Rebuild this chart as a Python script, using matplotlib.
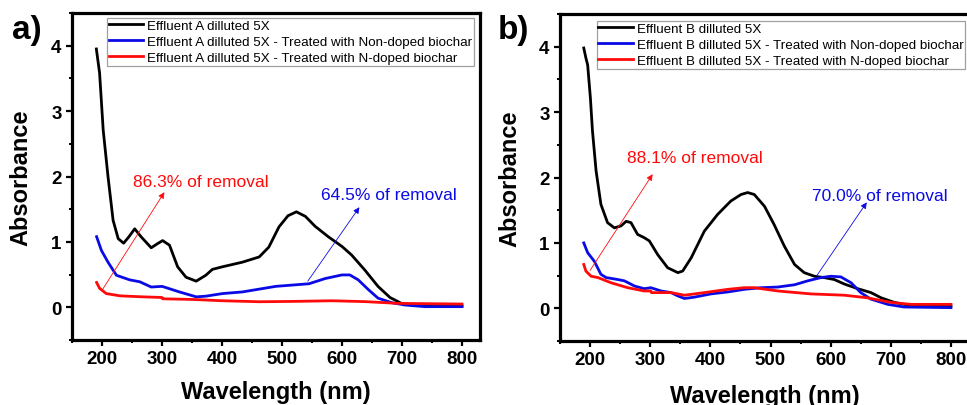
import matplotlib
matplotlib.use("Agg")
import matplotlib.pyplot as plt
from matplotlib.ticker import MultipleLocator

plt.rcParams['font.family'] = ['Liberation Sans', 'DejaVu Sans']

# ---------------- Data ----------------
# Panel a) Effluent A
a_black_x = [190.6, 196, 202, 210, 218.5, 227, 236, 245, 254.5, 265, 282, 292, 301, 312.5, 326, 340, 357, 373,
             384, 401, 434, 462, 478, 495, 510, 524, 539, 555, 577, 600, 616, 638, 660, 680, 699, 721, 749, 800]
a_black_y = [3.95, 3.58, 2.71, 2.00, 1.33, 1.05, 0.98, 1.08, 1.20, 1.08, 0.91, 0.97, 1.02, 0.95, 0.62, 0.46, 0.40, 0.49,
             0.58, 0.62, 0.69, 0.77, 0.92, 1.23, 1.40, 1.46, 1.39, 1.24, 1.08, 0.93, 0.80, 0.57, 0.32, 0.15, 0.06, 0.035, 0.02, 0.02]

a_blue_x = [191, 199, 210, 224, 246, 263, 282, 300, 307, 329, 357, 373, 401, 434, 489.5, 545, 572, 600, 613, 627, 644,
            660, 683, 705, 738, 800]
a_blue_y = [1.08, 0.87, 0.69, 0.49, 0.42, 0.39, 0.31, 0.32, 0.30, 0.235, 0.16, 0.17, 0.21, 0.235, 0.32, 0.36, 0.44,
            0.495, 0.495, 0.42, 0.27, 0.14, 0.07, 0.035, 0.01, 0.01]

a_red_x = [191, 196, 207, 230, 268, 300, 301, 351, 401, 462, 517, 583, 638, 693, 800]
a_red_y = [0.38, 0.29, 0.21, 0.175, 0.16, 0.15, 0.13, 0.12, 0.10, 0.085, 0.09, 0.10, 0.087, 0.06, 0.05]

# Panel b) Effluent B
b_black_x = [189.5, 193, 196, 200.5, 204, 210, 218, 229, 240.4, 251.5, 260, 268, 279, 290, 298.6, 312.5, 329, 346,
             354, 368, 390, 412, 434, 451, 462, 473, 490, 506, 523, 540, 556, 573, 589, 606, 623, 645, 667, 684,
             706, 728, 800]
b_black_y = [3.98, 3.83, 3.72, 3.22, 2.71, 2.10, 1.59, 1.31, 1.23, 1.26, 1.33, 1.31, 1.13, 1.08, 1.03, 0.82, 0.62, 0.545,
             0.57, 0.77, 1.18, 1.435, 1.64, 1.74, 1.77, 1.74, 1.56, 1.28, 0.95, 0.67, 0.545, 0.49, 0.47, 0.44,
             0.37, 0.30, 0.24, 0.16, 0.09, 0.05, 0.035]

b_blue_x = [189.5, 196, 207, 218, 226.6, 246, 257, 274, 290, 301, 318, 334.6, 345.7, 357, 373, 401, 429, 456.5, 484,
            512, 540, 562, 584, 600.5, 617, 634, 650, 667, 695, 722, 800]
b_blue_y = [1.00, 0.85, 0.72, 0.52, 0.47, 0.44, 0.42, 0.34, 0.30, 0.315, 0.265, 0.24, 0.19, 0.15, 0.17, 0.22, 0.25,
            0.29, 0.315, 0.325, 0.36, 0.42, 0.47, 0.49, 0.48, 0.39, 0.24, 0.14, 0.06, 0.02, 0.01]

b_red_x = [189.5, 193, 201.7, 213, 235, 262.6, 290, 301, 302, 334.6, 357, 390, 429, 456.5, 473, 512, 567, 623,
           661.5, 700, 734, 800]
b_red_y = [0.67, 0.57, 0.49, 0.47, 0.39, 0.315, 0.265, 0.265, 0.24, 0.24, 0.20, 0.24, 0.29, 0.315, 0.315, 0.265,
           0.22, 0.20, 0.16, 0.09, 0.06, 0.06]

labels_a = ["Effluent A dilluted 5X",
            "Effluent A dilluted 5X - Treated with Non-doped biochar",
            "Effluent A dilluted 5X - Treated with N-doped biochar"]
labels_b = ["Effluent B dilluted 5X",
            "Effluent B dilluted 5X - Treated with Non-doped biochar",
            "Effluent B dilluted 5X - Treated with N-doped biochar"]

x_ticks = [200, 300, 400, 500, 600, 700, 800]
y_ticks = [0, 1, 2, 3, 4]

BLACK = "#000000"
BLUE = "#0a0ae6"
RED = "#ff0a0a"

fig = plt.figure(figsize=(9.67, 4.06), dpi=100)
ax_a = fig.add_axes([72/967, 65/406, 408/967, 327/406])
ax_b = fig.add_axes([560/967, 64/406, 409/967, 327/406])


def style(ax, ylab_x, xlab_y):
    ax.set_xlim(150, 830)
    ax.set_ylim(-0.5, 4.5)
    ax.set_xticks(x_ticks)
    ax.set_yticks(y_ticks)
    ax.xaxis.set_minor_locator(MultipleLocator(50))
    ax.yaxis.set_minor_locator(MultipleLocator(0.5))
    ax.tick_params(which='major', direction='out', length=4.5, width=1.6, labelsize=13.5, pad=3,
                   top=False, right=False)
    ax.tick_params(which='minor', direction='out', length=2.5, width=1.4, top=False, right=False)
    for lbl in ax.get_xticklabels() + ax.get_yticklabels():
        lbl.set_fontweight('bold')
    for s in ax.spines.values():
        s.set_linewidth(2.3)
    ax.set_xlabel("Wavelength (nm)", fontsize=17, fontweight='bold')
    ax.set_ylabel("Absorbance", fontsize=17, fontweight='bold')
    ax.yaxis.set_label_coords(ylab_x, 0.5)
    ax.xaxis.set_label_coords(0.5, xlab_y)


def legend(ax, labels, anchor):
    ax.legend(labels=labels, loc='upper left', bbox_to_anchor=anchor, fontsize=9.6,
              frameon=True, fancybox=False, edgecolor='#a0a0a0', framealpha=1,
              borderpad=0.12, labelspacing=0.28, handlelength=2.6, handletextpad=0.3,
              borderaxespad=0.0).get_frame().set_linewidth(0.9)


def arrow(ax, start, end, color):
    ax.annotate("", xy=end, xytext=start,
                arrowprops=dict(arrowstyle='-|>', color=color, lw=0.6, mutation_scale=9,
                                shrinkA=0, shrinkB=0))


# Panel a
for xs, ys, c in [(a_black_x, a_black_y, BLACK), (a_blue_x, a_blue_y, BLUE), (a_red_x, a_red_y, RED)]:
    ax_a.plot(xs, ys, color=c, lw=2.0, solid_joinstyle='round')
style(ax_a, -0.098, -0.122)
legend(ax_a, labels_a, (0.086, 0.985))
arrow(ax_a, (200, 0.26), (304, 1.76), RED)
arrow(ax_a, (543, 0.40), (629, 1.53), BLUE)
ax_a.text(251, 1.93, "86.3% of removal", color=RED, fontsize=12.5, va='center', ha='left')
ax_a.text(565, 1.72, "64.5% of removal", color=BLUE, fontsize=12.5, va='center', ha='left')

# Panel b
for xs, ys, c in [(b_black_x, b_black_y, BLACK), (b_blue_x, b_blue_y, BLUE), (b_red_x, b_red_y, RED)]:
    ax_b.plot(xs, ys, color=c, lw=2.0, solid_joinstyle='round')
style(ax_b, -0.095, -0.13)
legend(ax_b, labels_b, (0.09, 0.979))
arrow(ax_b, (200, 0.58), (304, 2.05), RED)
arrow(ax_b, (577, 0.50), (660, 1.62), BLUE)
ax_b.text(261, 2.31, "88.1% of removal", color=RED, fontsize=12.5, va='center', ha='left')
ax_b.text(569, 1.73, "70.0% of removal", color=BLUE, fontsize=12.5, va='center', ha='left')

fig.text(27/967, 1 - 30/406, "a)", fontsize=24, fontweight='bold', ha='center', va='center')
fig.text(513/967, 1 - 30/406, "b)", fontsize=24, fontweight='bold', ha='center', va='center')

fig.savefig("out.png", dpi=100)
